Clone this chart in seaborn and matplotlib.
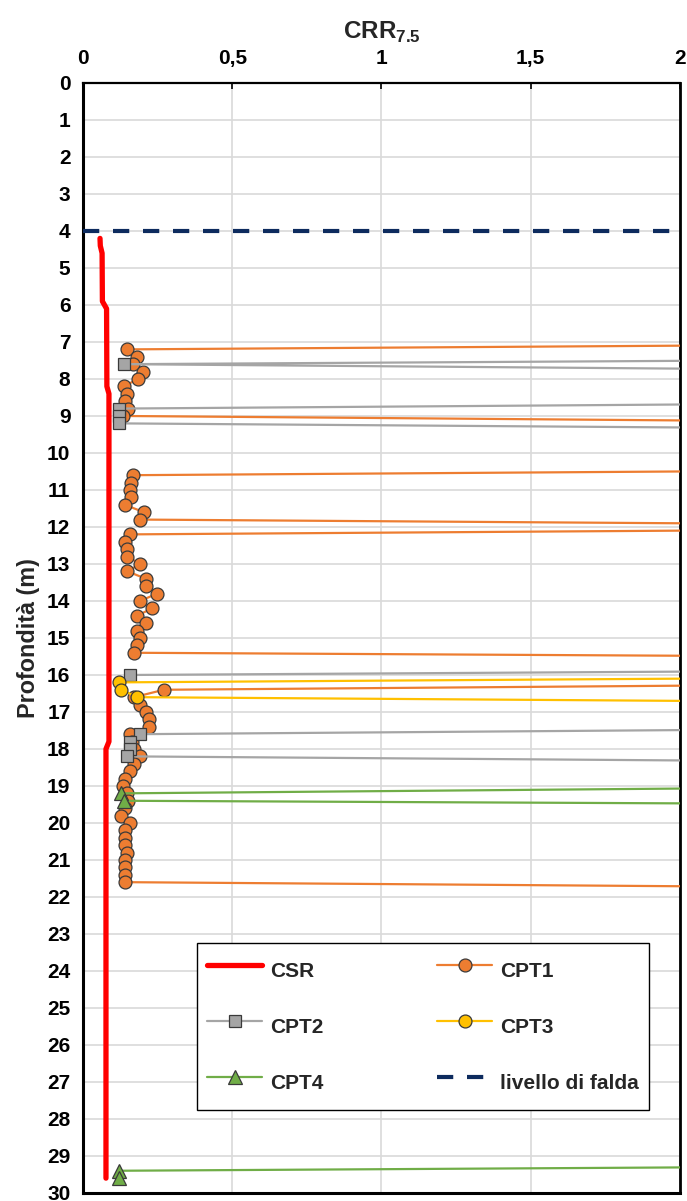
import numpy as np
import pandas as pd
import matplotlib
matplotlib.use("Agg")
import matplotlib.pyplot as plt
from matplotlib.lines import Line2D
import seaborn as sns

nan = np.nan

# CSR profile (depth in m, value)
csr_depth = [4.2, 4.4, 4.6, 5.9, 6.1, 8.2, 8.4, 17.8, 18.0, 29.6]
csr_value = [0.057, 0.058, 0.064, 0.065, 0.079, 0.080, 0.087, 0.087, 0.077, 0.077]

# CRR7.5 from the four CPT soundings; nan marks a break in the record
cpt1_depth = [7.0, 7.2, 7.4, 7.6, 7.8, 8.0, 8.2, 8.4, 8.6, 8.8, 9.0, 9.2, nan,
              10.4, 10.6, 10.8, 11.0, 11.2, 11.4, 11.6, 11.8, 12.0,
              12.2, 12.4, 12.6, 12.8, 13.0, 13.2, 13.4, 13.6, 13.8, 14.0,
              14.2, 14.4, 14.6, 14.8, 15.0, 15.2, 15.4, 15.6, nan,
              16.2, 16.4, 16.6, 16.8, 17.0, 17.2, 17.4, 17.6, 17.8, 18.0,
              18.2, 18.4, 18.6, 18.8, 19.0, 19.2, 19.4, 19.6, 19.8, 20.0,
              20.2, 20.4, 20.6, 20.8, 21.0, 21.2, 21.4, 21.6, 21.8]
cpt1_crr = [3.85, 0.149, 0.182, 0.168, 0.202, 0.183, 0.138, 0.149, 0.141, 0.152, 0.135, 3.24, nan,
            3.83, 0.168, 0.161, 0.158, 0.161, 0.140, 0.204, 0.191, 3.81,
            0.159, 0.140, 0.149, 0.149, 0.191, 0.149, 0.211, 0.211, 0.249, 0.191,
            0.231, 0.181, 0.211, 0.181, 0.191, 0.181, 0.171, 4.74, nan,
            3.41, 0.271, 0.171, 0.191, 0.211, 0.221, 0.221, 0.157, 0.165, 0.170,
            0.191, 0.171, 0.159, 0.140, 0.135, 0.146, 0.150, 0.140, 0.129, 0.159,
            0.140, 0.140, 0.140, 0.149, 0.140, 0.140, 0.140, 0.140, 3.52]

cpt2_depth = [7.4, 7.6, 7.8, nan, 8.6, 8.8, 9.0, 9.2, 9.4, nan,
              15.8, 16.0, nan, 17.4, 17.6, 17.8, 18.0, 18.2, 18.4]
cpt2_crr = [4.28, 0.138, 3.24, nan, 3.54, 0.120, 0.120, 0.120, 3.54, nan,
            4.25, 0.157, nan, 3.48, 0.191, 0.159, 0.159, 0.149, 3.52]

cpt3_depth = [16.0, 16.2, 16.4, 16.6, 16.8]
cpt3_crr = [3.88, 0.120, 0.129, 0.182, 3.82]

cpt4_depth = [19.0, 19.2, 19.4, 19.6, nan, 29.2, 29.4, 29.6]
cpt4_crr = [3.01, 0.126, 0.138, 5.46, nan, 4.30, 0.120, 0.120]

falda_depth = [4.0, 4.0]
falda_x = [0.0, 2.0]

x_ticks = [0, 0.5, 1, 1.5, 2]
x_tick_labels = ["0", "0,5", "1", "1,5", "2"]
y_ticks = list(range(0, 31))

series_names = ["CPT1", "CPT2", "CPT3", "CPT4"]
series_colors = ["#ED7D31", "#A5A5A5", "#FFC000", "#70AD47"]
series_markers = ["o", "s", "o", "^"]
marker_sizes = [9.3, 8.4, 9.3, 10.0]

sns.set_theme(style="white")
plt.rcParams["font.family"] = ["Liberation Sans", "DejaVu Sans"]
plt.rcParams["font.weight"] = "bold"
plt.rcParams["mathtext.fontset"] = "custom"
plt.rcParams["mathtext.bf"] = "Liberation Sans:bold"
plt.rcParams["mathtext.rm"] = "Liberation Sans:bold"


def to_frame(depth, crr):
    df = pd.DataFrame({"depth": depth, "crr": crr})
    df["seg"] = df["crr"].isna().cumsum()
    return df.dropna().reset_index(drop=True)


fig = plt.figure(figsize=(6.87, 12.01), dpi=100)
ax = fig.add_axes([0.1208, 0.0067, 0.869, 0.9242])

ax.grid(True, color="#D9D9D9", lw=1.2, zorder=0)
ax.set_axisbelow(True)

# CSR
csr_df = pd.DataFrame({"depth": csr_depth, "csr": csr_value})
sns.lineplot(data=csr_df, x="csr", y="depth", sort=False, estimator=None,
             color="#FF0000", lw=3.8, solid_capstyle="round", ax=ax, legend=False,
             zorder=3)

# CPT soundings
cpt_data = [(cpt1_depth, cpt1_crr), (cpt2_depth, cpt2_crr),
            (cpt3_depth, cpt3_crr), (cpt4_depth, cpt4_crr)]
for (d, v), name, col, mk, ms in zip(cpt_data, series_names, series_colors,
                                     series_markers, marker_sizes):
    df = to_frame(d, v)
    sns.lineplot(data=df, x="crr", y="depth", units="seg", estimator=None,
                 sort=False, color=col, lw=1.6, marker=mk, markersize=ms,
                 markerfacecolor=col, markeredgecolor="#3A3A3A",
                 markeredgewidth=0.9, ax=ax, legend=False, zorder=4)

# Water table
falda_df = pd.DataFrame({"x": falda_x, "depth": falda_depth})
sns.lineplot(data=falda_df, x="x", y="depth", sort=False, estimator=None,
             color="#0D2B5E", lw=3.0, dashes=False, ax=ax, legend=False, zorder=5)
ax.lines[-1].set_dashes((3.9, 3.3))

ax.set_xlim(0, 2)
ax.set_ylim(30, 0)
ax.set_xticks(x_ticks)
ax.set_xticklabels(x_tick_labels)
ax.set_yticks(y_ticks)
ax.set_yticklabels([str(t) for t in y_ticks])
ax.xaxis.tick_top()
ax.xaxis.set_label_position("top")
ax.tick_params(axis="both", direction="in", length=4.5, width=1.2,
               color="black", labelsize=15, labelcolor="black")
ax.tick_params(axis="x", pad=11)
ax.tick_params(axis="y", pad=9)
for lab in ax.get_xticklabels() + ax.get_yticklabels():
    lab.set_fontweight("bold")

ax.set_xlabel(r"$\mathbf{CRR}_{\mathbf{7.5}}$", fontsize=17.5, labelpad=7)
ax.set_ylabel("Profondità (m)", fontsize=16.8, fontweight="bold", labelpad=5)

for side, w in {"left": 2.2, "top": 1.6, "bottom": 2.2, "right": 2.0}.items():
    ax.spines[side].set_visible(True)
    ax.spines[side].set_color("black")
    ax.spines[side].set_linewidth(w)

# Legend
h_csr = Line2D([], [], color="#FF0000", lw=3.8)
h_cpt = [Line2D([], [], color=c, lw=1.6, marker=m, markersize=s, markerfacecolor=c,
                markeredgecolor="#3A3A3A", markeredgewidth=0.9)
         for c, m, s in zip(series_colors, series_markers, marker_sizes)]
h_falda = Line2D([], [], color="#0D2B5E", lw=3.0, dashes=(3.9, 3.3))
handles = [h_csr, h_cpt[1], h_cpt[3], h_cpt[0], h_cpt[2], h_falda]
labels = ["CSR", "CPT2", "CPT4", "CPT1", "CPT3", "livello di falda"]
leg = ax.legend(handles, labels, ncol=2, loc="upper left",
                bbox_to_anchor=(0.191, 0.2252),
                frameon=True, fancybox=False, framealpha=1, edgecolor="black",
                prop={"weight": "bold", "size": 15}, handlelength=2.64,
                handleheight=2.24, handletextpad=0.38, labelspacing=0.98,
                columnspacing=5.47, borderpad=0.48, borderaxespad=0)
leg.get_frame().set_linewidth(1.0)
leg.set_zorder(10)

fig.savefig("out.png", dpi=100)
